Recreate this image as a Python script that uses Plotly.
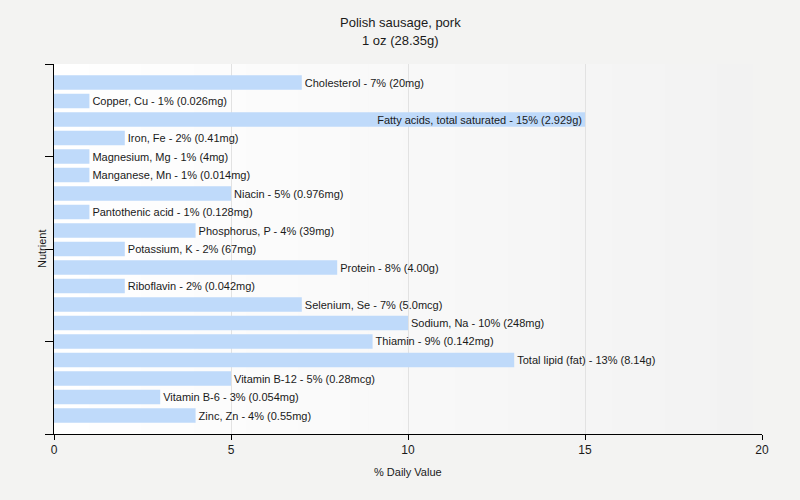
import plotly.graph_objects as go

nutrients = [
    "Cholesterol", "Copper, Cu", "Fatty acids, total saturated", "Iron, Fe",
    "Magnesium, Mg", "Manganese, Mn", "Niacin", "Pantothenic acid",
    "Phosphorus, P", "Potassium, K", "Protein", "Riboflavin", "Selenium, Se",
    "Sodium, Na", "Thiamin", "Total lipid (fat)", "Vitamin B-12",
    "Vitamin B-6", "Zinc, Zn",
]
daily_pct = [7, 1, 15, 2, 1, 1, 5, 1, 4, 2, 8, 2, 7, 10, 9, 13, 5, 3, 4]
amounts = [
    "20mg", "0.026mg", "2.929g", "0.41mg", "4mg", "0.014mg", "0.976mg",
    "0.128mg", "39mg", "67mg", "4.00g", "0.042mg", "5.0mcg", "248mg",
    "0.142mg", "8.14g", "0.28mcg", "0.054mg", "0.55mg",
]

title_lines = ["Polish sausage, pork", "1 oz (28.35g)"]
x_ticks = [0, 5, 10, 15, 20]

labels = [f"{n} - {v}% ({a})" for n, v, a in zip(nutrients, daily_pct, amounts)]
positions = list(range(len(nutrients)))
textpos = ["inside" if v >= 15 else "outside" for v in daily_pct]

FONT = "Liberation Sans"
TXT = "#1a1a1a"

fig = go.Figure()
fig.add_trace(go.Bar(
    x=daily_pct, y=positions, orientation="h", width=0.78,
    marker=dict(color="#bfdafa", line=dict(width=0)),
    text=labels, textposition=textpos, insidetextanchor="end",
    textfont=dict(family=FONT, size=11, color=TXT),
    insidetextfont=dict(family=FONT, size=11, color=TXT),
    outsidetextfont=dict(family=FONT, size=11, color=TXT),
    constraintext="none", cliponaxis=False, hoverinfo="skip",
))

# horizontal gradient for plot background
n = 40
shapes = []
for i in range(n):
    t = i / (n - 1)
    c = int(round(255 - t * (255 - 242)))
    shapes.append(dict(type="rect", xref="paper", yref="paper",
                       x0=i / n * 0.986, x1=(i + 1) / n * 0.986 + 0.001, y0=0, y1=1,
                       fillcolor=f"rgb({c},{c},{c})", line=dict(width=0), layer="below"))

title_x = (400 - 54) / 708
fig.update_layout(
    width=800, height=500,
    margin=dict(l=54, r=38, t=64, b=66),
    paper_bgcolor="#f3f3f2", plot_bgcolor="#f3f3f2",
    font=dict(family=FONT, size=12, color=TXT),
    showlegend=False, shapes=shapes,
    xaxis=dict(range=[0, 20], tickvals=x_ticks, ticks="outside", ticklen=5,
               tickcolor="#000", showline=True, linecolor="#000", linewidth=1,
               showgrid=True, gridcolor="#e2e2e2", zeroline=False,
               tickfont=dict(family=FONT, size=12, color=TXT)),
    yaxis=dict(range=[19, -1], tickvals=[-1, 4, 9, 14, 19], ticktext=[""] * 5,
               ticks="outside", ticklen=8, tickcolor="#000", showline=True,
               linecolor="#000", linewidth=1, showgrid=False, zeroline=False),
    annotations=[
        dict(text=title_lines[0], xref="paper", yref="paper",
             x=title_x, y=1, yshift=42, xanchor="center", yanchor="middle",
             showarrow=False, font=dict(family=FONT, size=13, color=TXT)),
        dict(text=title_lines[1], xref="paper", yref="paper",
             x=title_x, y=1, yshift=24, xanchor="center", yanchor="middle",
             showarrow=False, font=dict(family=FONT, size=13, color=TXT)),
        dict(text="% Daily Value", xref="paper", yref="paper", x=0.5, y=0,
             yshift=-38, xanchor="center", yanchor="middle", showarrow=False,
             font=dict(family=FONT, size=11, color=TXT)),
        dict(text="Nutrient", xref="paper", yref="paper", x=0, y=0.5,
             xshift=-12, textangle=-90, xanchor="center", yanchor="middle",
             showarrow=False, font=dict(family=FONT, size=11, color=TXT)),
    ],
)

fig.write_html(
    "out.html",
    config={"displayModeBar": False},
    post_script="document.body.style.margin='0';document.body.style.background='#f3f3f2';",
)
